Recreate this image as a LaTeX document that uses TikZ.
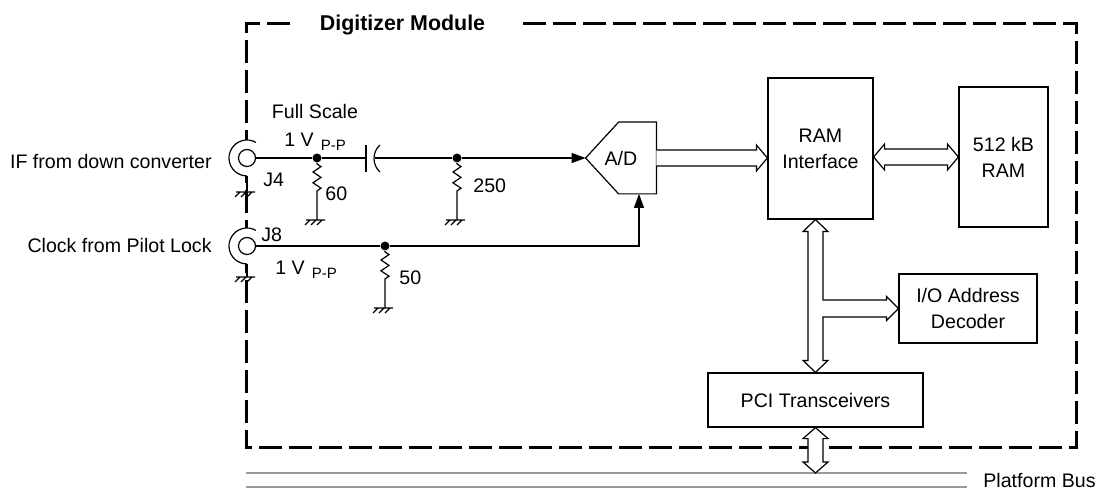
\documentclass[tikz,border=0pt]{standalone}
\usepackage{fontspec}
\setmainfont{Liberation Sans}
\usetikzlibrary{arrows.meta,calc,decorations.pathmorphing}

\newcommand{\vpp}{\fontsize{7.5}{9}\selectfont P-P}

\tikzset{
  every node/.style={font=\fontsize{9.8}{13}\selectfont},
  lbl/.style={inner sep=0pt},
  block/.style={draw, line width=0.6pt, align=center, inner sep=0pt},
  wire/.style={line width=0.6pt},
  sig/.style={wire, -{Triangle[length=7pt,width=5pt]}},
  dot/.style={circle, fill, inner sep=0pt, minimum size=4.5pt},
  jack/.style={circle, draw, fill=white, inner sep=0pt, minimum size=8.5pt, line width=0.6pt},
  res/.style={wire, decorate, decoration={zigzag, amplitude=2pt, segment length=5.4pt, pre length=0.5pt, post length=12pt}},
  bus/.style={line width=0.6pt, fill=white},
  busline/.style={line width=0.7pt, gray!80},
  frame/.style={line width=1.5pt, dash pattern=on 11.5pt off 3.5pt},
  gnd/.pic={\draw[wire] (-11,0) -- (8,0) (-7,0) -- ++(-5,5) (-1,0) -- ++(-5,5) (5,0) -- ++(-5,5);},
}

\begin{document}
\begin{tikzpicture}[x=0.5pt, y=-0.5pt]
  % Digitizer module block diagram
  \useasboundingbox (0,0) rectangle (1099,492);
  \draw[frame] (290,24) -- (246,24) -- (246,447) -- (1076,447) -- (1076,24) -- (517,24);
  \node[lbl, anchor=base, font=\fontsize{10.7}{12}\selectfont\bfseries] (title) at (402.5,31) {Digitizer Module};

  % input connectors
  \foreach \n/\y in {j4/158, j8/246} {
    \fill[white] (247,\y) circle (9pt);
    \draw[wire] (247,\y) ++(60:9pt) arc[start angle=60, end angle=270, radius=9pt];
    \node[jack] (\n) at (247,\y) {};
  }
  \node[lbl, anchor=base east] (ifin) at (212,169) {IF from down converter};
  \node[lbl, anchor=base east] (clkin) at (212,253) {Clock from Pilot Lock};
  \node[lbl, anchor=base west] (j4lbl) at (263,187) {J4};
  \node[lbl, anchor=base west] (j8lbl) at (261,242) {J8};
  \node[lbl, anchor=base] (fs) at (315,119) {Full Scale};
  \node[lbl, anchor=base west] (vin) at (284,147) {1 V\hspace{3.5pt}\raisebox{-2pt}{\vpp}};
  \node[lbl, anchor=base west] (vclk) at (275,274) {1 V\hspace{3.5pt}\raisebox{-2pt}{\vpp}};

  % grounds
  \coordinate (gj4) at (247,192);
  \coordinate (gj8) at (247,277);
  \coordinate (g60) at (317,220);
  \coordinate (g250) at (457,220);
  \coordinate (g50) at (385,308);
  \foreach \g in {gj4,gj8,g60,g250,g50} \pic at (\g) {gnd};
  \draw[wire] (j4) ++(0,18) -- (gj4);
  \draw[wire] (j8) ++(0,18) -- (gj8);

  % terminations
  \node[dot] (n60) at (317,158) {};
  \node[dot] (n250) at (457,158) {};
  \node[dot] (n50) at (385,246) {};
  \draw[res] (n60) -- (g60);
  \draw[res] (n250) -- (g250);
  \draw[res] (n50) -- (g50);
  \node[lbl, anchor=base west] (r60) at (325,201) {60};
  \node[lbl, anchor=base west] (r250) at (473,192) {250};
  \node[lbl, anchor=base west] (r50) at (399,285) {50};

  % coupling capacitor
  \coordinate (capl) at (366,158);
  \coordinate (capr) at (375,158);
  \draw[wire] (366,145) -- (366,172);
  \draw[wire] (380,145) .. controls (372,152) and (372,165) .. (380,172);

  % converter
  \node[lbl, minimum width=35pt, minimum height=35.5pt] (ad) at (621,158) {A/D};
  \draw[wire] (ad.west) -- ([xshift=16.5pt]ad.north west) -- (ad.north east)
    -- (ad.south east) -- ([xshift=16.5pt]ad.south west) -- cycle;

  \draw[wire] (j4) -- (n60) -- (capl);
  \draw[wire] (capr) -- (n250);
  \draw[sig] (n250) -- (ad.west);
  \draw[wire] (j8) -- (n50);
  \draw[sig] (n50) -| ([xshift=9pt]ad.south);

  % blocks
  \node[block, minimum width=52.5pt, minimum height=70.5pt] (ram) at (820.5,148.5) {RAM\\Interface};
  \node[block, minimum width=44.5pt, minimum height=70pt] (mem) at (1003.5,157) {512 kB\\RAM};
  \node[block, minimum width=69pt, minimum height=34.5pt] (io) at (968,308.5) {I/O Address\\Decoder};
  \node[block, minimum width=107.5pt, minimum height=27pt] (pci) at (815.5,400) {PCI Transceivers};

  % platform bus
  \coordinate (busa1) at (246,473);
  \coordinate (busa2) at (967,473);
  \coordinate (busb1) at (246,487);
  \coordinate (busb2) at (967,487);
  \draw[busline] (busa1) -- (busa2);
  \draw[busline] (busb1) -- (busb2);
  \node[lbl, anchor=base west] (pbus) at (983,487) {Platform Bus};

  % data paths
  \draw[bus] let \p1=(ad.east), \p2=(ram.west) in
    (\x1,\y1+4pt) -- (\x2-5.5pt,\y1+4pt) -- (\x2-5.5pt,\y1+6.5pt) -- (\x2,\y1)
    -- (\x2-5.5pt,\y1-6.5pt) -- (\x2-5.5pt,\y1-4pt) -- (\x1,\y1-4pt);
  \draw[bus] let \p1=(ram.east), \p2=(mem.west) in
    (\x1,\y2) -- (\x1+5.5pt,\y2+6.5pt) -- (\x1+5.5pt,\y2+4pt) -- (\x2-5.5pt,\y2+4pt)
    -- (\x2-5.5pt,\y2+6.5pt) -- (\x2,\y2) -- (\x2-5.5pt,\y2-6.5pt) -- (\x2-5.5pt,\y2-4pt)
    -- (\x1+5.5pt,\y2-4pt) -- (\x1+5.5pt,\y2-6.5pt) -- cycle;
  \draw[bus] let \p1=(ram.south), \p2=(pci.north), \p3=(io.west) in
    (\x2,\y1) -- (\x2+6.25pt,\y1-6pt) -- (\x2+3.75pt,\y1-6pt) -- (\x2+3.75pt,\y3+4.25pt)
    -- (\x3-6pt,\y3+4.25pt) -- (\x3-6pt,\y3+6pt) -- (\x3,\y3) -- (\x3-6pt,\y3-6pt)
    -- (\x3-6pt,\y3-4.25pt) -- (\x2+3.75pt,\y3-4.25pt) -- (\x2+3.75pt,\y2+6pt)
    -- (\x2+6.25pt,\y2+6pt) -- (\x2,\y2) -- (\x2-6.25pt,\y2+6pt) -- (\x2-3.75pt,\y2+6pt)
    -- (\x2-3.75pt,\y1-6pt) -- (\x2-6.25pt,\y1-6pt) -- cycle;
  \draw[bus] let \p1=(pci.south), \p2=(busa1) in
    (\x1,\y1) -- (\x1+6.25pt,\y1-5.5pt) -- (\x1+3.75pt,\y1-5.5pt) -- (\x1+3.75pt,\y2+5.5pt)
    -- (\x1+6.25pt,\y2+5.5pt) -- (\x1,\y2) -- (\x1-6.25pt,\y2+5.5pt) -- (\x1-3.75pt,\y2+5.5pt)
    -- (\x1-3.75pt,\y1-5.5pt) -- (\x1-6.25pt,\y1-5.5pt) -- cycle;
\end{tikzpicture}
\end{document}
